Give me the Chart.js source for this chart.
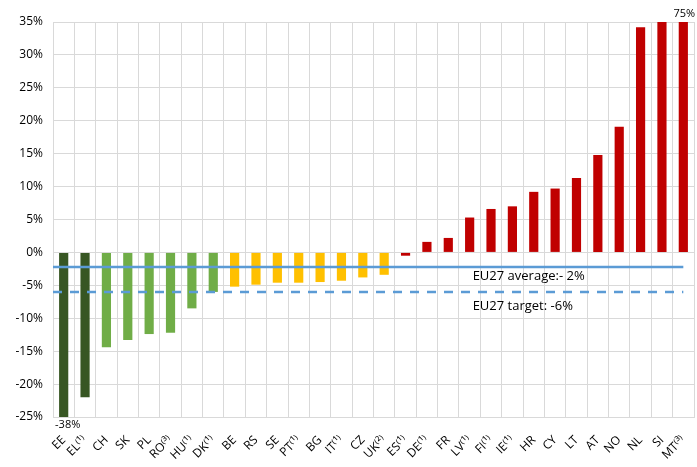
<!DOCTYPE html>
<html>
<head>
<meta charset="utf-8">
<script src="https://cdn.jsdelivr.net/npm/chart.js@4"></script>
<style>
  html, body { margin: 0; padding: 0; background: #fff; }
  #wrap { width: 697px; height: 467px; }
</style>
</head>
<body>
<div id="wrap"><canvas id="myChart" width="697" height="467"></canvas></div>
<script>
// countries (footnote marks kept as superscripts)
const categories = ['EE', 'EL⁽¹⁾', 'CH', 'SK', 'PL', 'RO⁽³⁾', 'HU⁽¹⁾', 'DK⁽¹⁾', 'BE', 'RS',
    'SE', 'PT⁽¹⁾', 'BG', 'IT⁽¹⁾', 'CZ', 'UK⁽²⁾', 'ES⁽¹⁾', 'DE⁽¹⁾', 'FR', 'LV⁽¹⁾',
    'FI⁽¹⁾', 'IE⁽¹⁾', 'HR', 'CY', 'LT', 'AT', 'NO', 'NL', 'SI', 'MT⁽³⁾'];
// change in % (EE and MT run off the axis)
const values = [-38, -22.0, -14.4, -13.3, -12.4, -12.2, -8.5, -6.0, -5.2, -4.9,
    -4.6, -4.6, -4.5, -4.3, -3.8, -3.4, -0.5, 1.6, 2.2, 5.3,
    6.6, 7.0, 9.2, 9.7, 11.3, 14.8, 19.1, 34.2, 35.5, 75];
const yTicks = [35, 30, 25, 20, 15, 10, 5, 0, -5, -10, -15, -20, -25];
const euAverage = -2.2;
const euTarget = -6.0;
const euAverageText = 'EU27 average:- 2%';
const euTargetText = 'EU27 target: -6%';

function colorFor(i) {
    if (i < 2) return '#375623';
    if (i < 8) return '#70AD47';
    if (i < 16) return '#FFC000';
    return '#C00000';
}

const FONT = "'Open Sans', 'DejaVu Sans', sans-serif";

const refLines = {
    id: 'refLines',
    afterDatasetsDraw(chart) {
        const ctx = chart.ctx;
        const area = chart.chartArea;
        const x = chart.scales.x, y = chart.scales.y;
        const bars = chart.getDatasetMeta(0).data;
        const xEnd = bars[bars.length - 1].x;
        ctx.save();
        ctx.strokeStyle = '#5B9BD5';
        ctx.lineWidth = 2.5;
        let ya = y.getPixelForValue(euAverage);
        ctx.beginPath(); ctx.moveTo(area.left, ya); ctx.lineTo(xEnd, ya); ctx.stroke();
        let yt = y.getPixelForValue(euTarget);
        ctx.setLineDash([9, 8]);
        ctx.beginPath(); ctx.moveTo(area.left, yt); ctx.lineTo(xEnd, yt); ctx.stroke();
        ctx.setLineDash([]);

        ctx.fillStyle = '#000';
        ctx.font = '13px ' + FONT;
        ctx.textAlign = 'left';
        ctx.textBaseline = 'middle';
        const tx = x.getPixelForValue(19) + 3;
        ctx.fillText(euAverageText, tx, ya + 9);
        ctx.fillText(euTargetText, tx, yt + 14);

        // values beyond the axis
        ctx.font = '11px ' + FONT;
        ctx.textAlign = 'center';
        ctx.fillText(values[0] + '%', bars[0].x + 4, area.bottom + 8);
        ctx.fillText(values[values.length - 1] + '%', bars[bars.length - 1].x + 1, area.top - 8);
        ctx.restore();
    }
};

const ctx = document.getElementById('myChart').getContext('2d');
const myChart = new Chart(ctx, {
    type: 'bar',
    data: {
        labels: categories,
        datasets: [{
            data: values,
            backgroundColor: values.map((v, i) => colorFor(i)),
            borderWidth: 0,
            categoryPercentage: 1,
            barPercentage: 0.43
        }]
    },
    options: {
        responsive: false,
        animation: false,
        layout: { padding: { top: 22, right: 3, left: 0, bottom: 0 } },
        plugins: { legend: { display: false }, tooltip: { enabled: false } },
        scales: {
            x: {
                grid: { color: '#d9d9d9', offset: true, drawTicks: false },
                border: { color: '#d9d9d9' },
                ticks: {
                    color: '#000', font: { family: FONT, size: 12 },
                    minRotation: 45, maxRotation: 45, autoSkip: false, padding: 16
                },
                afterFit(scale) {
                    scale.height = 50;
                    scale.paddingLeft = 0;
                    scale.paddingRight = 0;
                }
            },
            y: {
                min: -25, max: 35,
                grid: { color: '#d9d9d9', drawTicks: false },
                border: { display: false },
                afterBuildTicks(scale) { scale.ticks = yTicks.map(v => ({ value: v })); },
                ticks: {
                    color: '#000', font: { family: FONT, size: 12 }, padding: 10,
                    callback: v => v + '%'
                },
                afterFit(scale) { scale.width = 53; }
            }
        }
    },
    plugins: [refLines]
});
</script>
</body>
</html>
